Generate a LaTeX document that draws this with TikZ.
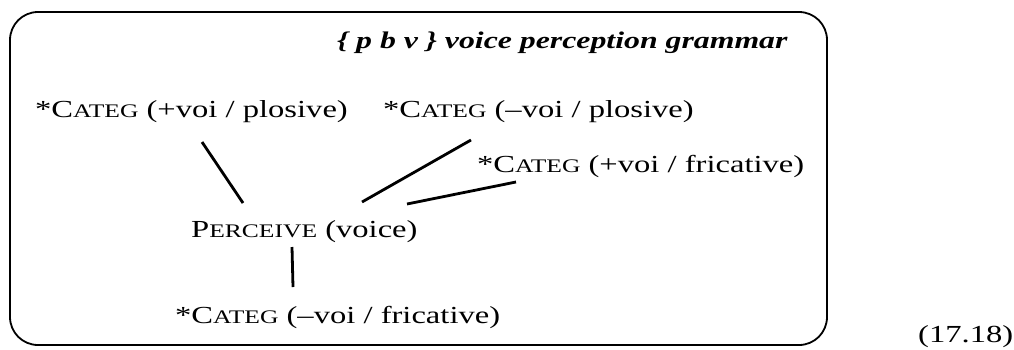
\documentclass[tikz,border=0pt]{standalone}
\usepackage{fontspec}
\setmainfont[FakeStretch=1.33]{Liberation Serif}
\usetikzlibrary{calc}
\newcommand\smc[1]{{\fontsize{19.2}{19.2}\selectfont #1}}

\begin{document}
\begin{tikzpicture}[x=1pt,y=-1pt,
    t/.style={inner sep=0pt,anchor=base west,font=\fontsize{24.5}{28}\selectfont},
    hd/.style={t,font=\fontsize{23.9}{28}\selectfont\bfseries\itshape},
    ln/.style={line width=2.8pt}]
    \useasboundingbox (0,0) rectangle (1014,349);
    \draw[line width=1.8pt,rounded corners=28pt] (10,12) rectangle (827,345);
    \node[hd] (hd) at (337,48) {\{ p b v \} voice perception grammar};
    \node[t] (pp) at (35,117) {*C\smc{ATEG} (+voi / plosive)};
    \node[t] (mp) at (383,117) {*C\smc{ATEG} (–voi / plosive)};
    \node[t] (pf) at (477,172) {*C\smc{ATEG} (+voi / fricative)};
    \node[t] (perc) at (191,237) {P\smc{ERCEIVE} (voice)};
    \node[t] (mf) at (175,323) {*C\smc{ATEG} (–voi / fricative)};
    \node[t] (num) at (918,342) {(17.18)};
    \draw[ln] ($(pp.base west)+(167,25)$) -- ($(perc.base west)+(52,-34)$);
    \draw[ln] ($(mp.base west)+(88,23)$) -- ($(perc.base west)+(171,-35)$);
    \draw[ln] ($(pf.base west)+(39,10)$) -- ($(perc.base west)+(216,-33)$);
    \draw[ln] ($(perc.base west)+(101,10)$) -- ($(mf.base west)+(118,-36)$);
\end{tikzpicture}
\end{document}
